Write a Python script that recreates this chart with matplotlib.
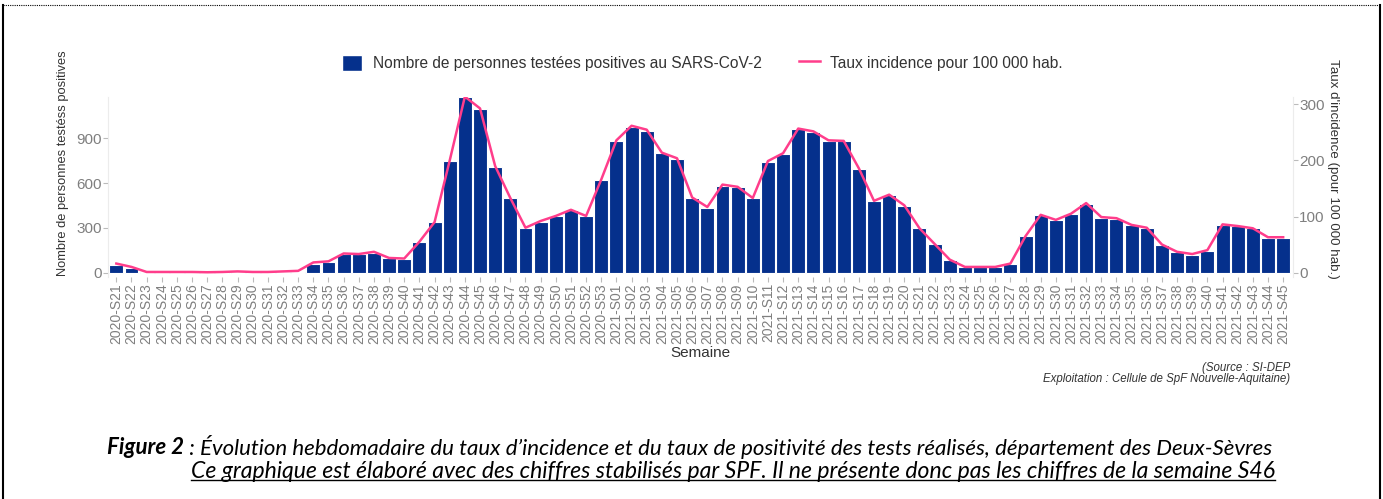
import numpy as np
import matplotlib.pyplot as plt
from matplotlib.lines import Line2D
from matplotlib.patches import Patch

# weeks shown on the x axis
weeks_2020 = list(range(21, 54))
weeks_2021 = list(range(1, 46))
week_labels = [f"2020-S{w:02d}" for w in weeks_2020] + [f"2021-S{w:02d}" for w in weeks_2021]

# number of people tested positive (left axis)
positives_2020 = [53, 31, 3, 2, 2, 2, 1, 2, 4, 2, 2, 4, 6,
                  60, 68, 122, 122, 133, 96, 89,
                  207, 338, 747, 1175, 1098, 707, 498, 296, 342, 380, 418, 378, 620]
positives_2021 = [880, 980, 953, 802, 762, 502, 435, 584, 573, 498,
                  744, 798, 962, 942, 880, 880, 695, 480, 520, 449,
                  296, 191, 87, 36, 36, 36, 58, 244, 384, 351,
                  391, 462, 369, 362, 316, 296, 187, 136, 120, 147,
                  320, 311, 296, 233, 233]

# incidence rate per 100 000 inhabitants (right axis)
incidence_2020 = [16, 10, 1, 1, 1, 1, 0.5, 1, 2, 1, 1, 2, 3,
                  18, 20, 34, 33, 37, 26, 25,
                  55, 90, 200, 314, 293, 190, 133, 80, 92, 101, 112, 101, 166]
incidence_2021 = [236, 262, 255, 214, 204, 134, 117, 157, 153, 133,
                  199, 213, 257, 252, 236, 235, 186, 128, 139, 120,
                  79, 51, 23, 10, 10, 10, 16, 65, 103, 94,
                  105, 124, 99, 97, 85, 80, 50, 37, 33, 40,
                  86, 83, 79, 63, 63]

positives = positives_2020 + positives_2021
incidence = incidence_2020 + incidence_2021

BAR = "#05308c"
LINE = "#ff3d8b"
GREY = "#7f7f7f"

plt.rcParams['font.family'] = ['Liberation Sans', 'DejaVu Sans']

fig = plt.figure(figsize=(13.83, 4.99), dpi=100)
ax = fig.add_axes([108/1383, (499-277)/499, (1293-108)/1383, (277-97)/499])
ax2 = ax.twinx()

x = np.arange(len(week_labels))
ax.bar(x, positives, width=0.92, color=BAR, edgecolor="white", linewidth=0.8, zorder=2)
ax2.plot(x, incidence, color=LINE, linewidth=1.8, zorder=3)

ax.set_xlim(-0.55, len(x) - 1 + 0.65)
ax.set_ylim(-30, 1178)
ax2.set_ylim(-30 * 0.266, 1178 * 0.266)
ax.set_yticks([0, 300, 600, 900])
ax2.set_yticks([0, 100, 200, 300])
ax.set_xticks(x)
ax.set_xticklabels(week_labels, rotation=90, fontsize=10, color=GREY)

for a in (ax, ax2):
    for s in a.spines.values():
        s.set_visible(False)
    a.tick_params(colors="#bbbbbb", labelcolor=GREY, labelsize=11, length=3.5, width=0.8)
ax.spines["left"].set_visible(True)
ax.spines["left"].set_color("#ececec")
ax2.spines["right"].set_visible(True)
ax2.spines["right"].set_color("#ececec")
ax.tick_params(axis="x", labelsize=10, pad=1)
ax.tick_params(axis="y", pad=1)
ax2.tick_params(axis="y", pad=1)

ax.set_xlabel("Semaine", fontsize=11, color="#333333", labelpad=1)
ax.set_ylabel("Nombre de personnes testéss positives", fontsize=9.3, color="#333333")
ax2.set_ylabel("Taux d'incidence (pour 100 000 hab.)", fontsize=9.6, color="#333333",
               rotation=270)
ax.yaxis.set_label_coords(-0.033, 0.63)
ax2.yaxis.set_label_coords(1.039, 0.60)

handles = [Patch(facecolor=BAR, edgecolor="white"),
           Line2D([0], [0], color=LINE, linewidth=1.8)]
fig.legend(handles, ["Nombre de personnes testées positives au SARS-CoV-2",
                     "Taux incidence pour 100 000 hab."],
           loc="center", bbox_to_anchor=(0.508, 1 - 63/499), ncol=2, frameon=False,
           fontsize=11.2, handlelength=1.3, handleheight=1.2, handletextpad=0.7,
           columnspacing=2.4, labelcolor="#333333")

fig.text(1290/1383, 1 - 368/499, "(Source : SI-DEP", ha="right", va="center",
         fontsize=8.3, style="italic", color="#333333")
fig.text(1290/1383, 1 - 379/499, "Exploitation : Cellule de SpF Nouvelle-Aquitaine)",
         ha="right", va="center", fontsize=8.3, style="italic", color="#333333")

# caption below the chart
cap_font = ['Lato', 'DejaVu Sans']
t1 = fig.text(107/1383, 1 - 447/499, "Figure 2", fontsize=16, style="italic",
              weight="bold", family=cap_font, va="center")
fig.canvas.draw()
r = fig.canvas.get_renderer()
bb = t1.get_window_extent(r)
fig.text(bb.x1 / 1383, 1 - 447/499,
         " : Évolution hebdomadaire du taux d’incidence et du taux de positivité des tests réalisés, département des Deux-Sèvres",
         fontsize=16, style="italic", family=cap_font, va="center")
t3 = fig.text(1275/1383, 1 - 471/499,
              "Ce graphique est élaboré avec des chiffres stabilisés par SPF. Il ne présente donc pas les chiffres de la semaine S46",
              fontsize=16.6, style="italic", family=cap_font, va="center", ha="right")
fig.canvas.draw()
bb3 = t3.get_window_extent(fig.canvas.get_renderer())
fig.add_artist(Line2D([bb3.x0 / 1383, bb3.x1 / 1383], [bb3.y0 / 499 + 0.003] * 2,
                      color="black", linewidth=1))

# page frame
fig.add_artist(Line2D([3/1383, 3/1383], [0, 1 - 5/499], color="black", linewidth=1.5))
fig.add_artist(Line2D([1380/1383, 1380/1383], [0, 1 - 5/499], color="black", linewidth=1.5))
fig.add_artist(Line2D([3/1383, 1380/1383], [1 - 5/499] * 2, color="black",
                      linewidth=0.8, linestyle=(0, (1, 1))))

fig.savefig("out.png", dpi=100)
